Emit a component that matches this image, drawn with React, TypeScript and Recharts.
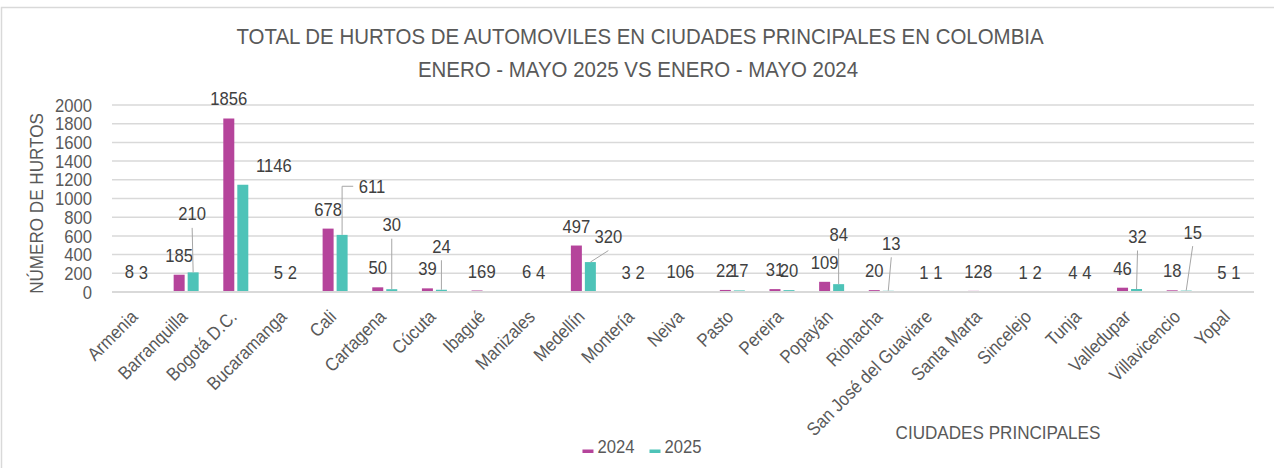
import React from 'react';
import { BarChart, Bar, XAxis, YAxis, CartesianGrid, LabelList, Legend } from 'recharts';

const cities = ['Armenia', 'Barranquilla', 'Bogotá D.C.', 'Bucaramanga', 'Cali', 'Cartagena', 'Cúcuta', 'Ibagué', 'Manizales', 'Medellín', 'Montería', 'Neiva', 'Pasto', 'Pereira', 'Popayán', 'Riohacha', 'San José del Guaviare', 'Santa Marta', 'Sincelejo', 'Tunja', 'Valledupar', 'Villavicencio', 'Yopal'];
const hurtos2024 = [8, 185, 1856, 5, 678, 50, 39, 16, 6, 497, 3, 10, 22, 31, 109, 20, 1, 12, 1, 4, 46, 18, 5];
const hurtos2025 = [3, 210, 1146, 2, 611, 30, 24, 9, 4, 320, 2, 6, 17, 20, 84, 13, 1, 8, 2, 4, 32, 15, 1];
const yTicks = [0, 200, 400, 600, 800, 1000, 1200, 1400, 1600, 1800, 2000];
const seriesNames = ['2024', '2025'];
const titleLines = ['TOTAL DE HURTOS DE AUTOMOVILES EN CIUDADES PRINCIPALES EN COLOMBIA', 'ENERO - MAYO 2025 VS ENERO - MAYO 2024'];
const yTitle = 'NÚMERO DE HURTOS';
const xTitle = 'CIUDADES PRINCIPALES';

// manual placement of some 2025 data labels (as in the source report)
const label2025Moves: Record<string, { dx: number; dy: number; leader: 'line' | 'elbow' | 'none' }> = {
  'Barranquilla': { dx: -1, dy: -39, leader: 'line' },
  'Bogotá D.C.': { dx: 31, dy: 0, leader: 'none' },
  'Cali': { dx: 30, dy: -29, leader: 'elbow' },
  'Cartagena': { dx: 0, dy: -45, leader: 'line' },
  'Cúcuta': { dx: 0, dy: -24, leader: 'line' },
  'Medellín': { dx: 18, dy: -6, leader: 'line' },
  'Popayán': { dx: 0, dy: -30, leader: 'line' },
  'Riohacha': { dx: 3, dy: -28, leader: 'line' },
  'Valledupar': { dx: 1, dy: -33, leader: 'line' },
  'Villavicencio': { dx: 6.5, dy: -39, leader: 'line' },
};

const data = cities.map((c, i) => ({ city: c, y2024: hurtos2024[i], y2025: hurtos2025[i] }));

const FONT = "'Liberation Sans', Arial, sans-serif";
const C2024 = '#B5449B';
const C2025 = '#4EC3B8';
const TXT = '#595959';
const LBL = '#404040';
const GRID = '#D9D9D9';
const SX = 0.9;
const FS = 18.5;

function CText({ x, y, angle = 0, sx = SX, size = FS, fill = TXT, anchor = 'middle', children }: any) {
  return (
    <text
      transform={`translate(${x},${y}) rotate(${angle}) scale(${sx},1)`}
      x={0}
      y={0}
      fontSize={size}
      fill={fill}
      textAnchor={anchor}
      fontFamily={FONT}
    >
      {children}
    </text>
  );
}

const YTick = (p: any) => (
  <CText x={p.x} y={Number(p.y) + 6.6} anchor="end">{p.payload.value}</CText>
);

const XTick = (p: any) => (
  <CText x={Number(p.x) + 2} y={Number(p.y) + 26} angle={-45} anchor="end">{p.payload.value}</CText>
);

const Label2024 = (p: any) => {
  const cx = Number(p.x) + Number(p.width) / 2;
  const top = Number(p.y);
  return <CText x={cx} y={top - 13} fill={LBL}>{p.value}</CText>;
};

const Label2025 = (p: any) => {
  const cx = Number(p.x) + Number(p.width) / 2;
  const top = Number(p.y);
  const city = cities[p.index];
  const mv = label2025Moves[city] || { dx: 0, dy: 0, leader: 'none' };
  const lx = cx + mv.dx;
  const ly = top - 13 + mv.dy;
  const txt = String(p.value);
  const w = txt.length * 0.556 * FS * SX;
  let leader = null;
  if (mv.leader === 'line') {
    leader = <line x1={lx} y1={ly + 7.5} x2={cx} y2={top} stroke="#A6A6A6" strokeWidth={1} />;
  } else if (mv.leader === 'elbow') {
    const my = ly - 6.6;
    leader = <polyline points={`${cx},${top} ${cx},${my} ${lx - w / 2 - 5},${my}`} fill="none" stroke="#A6A6A6" strokeWidth={1} />;
  }
  return (
    <g>
      {leader}
      <CText x={lx} y={ly} fill={LBL}>{txt}</CText>
    </g>
  );
};

const LegendContent = () => {
  const colors = [C2024, C2025];
  const sw = 11;
  const gap = 4;
  const tw = 4 * 0.556 * FS * SX;
  const itemGap = 15;
  const total = 2 * (sw + gap + tw) + itemGap;
  let x = 642 - total / 2;
  const items = seriesNames.map((n, i) => {
    const x0 = x;
    x += sw + gap + tw + itemGap;
    return (
      <g key={n}>
        <rect x={x0} y={17.5} width={sw} height={3.5} fill={colors[i]} />
        <CText x={x0 + sw + gap} y={21} anchor="start">{n}</CText>
      </g>
    );
  });
  return (
    <svg width={1274} height={32} style={{ display: 'block', overflow: 'visible' }}>
      {items}
    </svg>
  );
};

export default function App() {
  return (
    <div style={{ position: 'absolute', left: 0, top: 0, width: 1274, height: 468, background: '#fff', overflow: 'hidden' }}>
      <BarChart
        width={1274}
        height={468}
        data={data}
        margin={{ top: 105, right: 20, left: 52, bottom: 0 }}
        barGap={3}
      >
        <CartesianGrid vertical={false} stroke={GRID} strokeWidth={1.5} />
        <XAxis
          dataKey="city"
          interval={0}
          tickLine={false}
          tickSize={0}
          tickMargin={0}
          axisLine={{ stroke: GRID, strokeWidth: 2 }}
          height={176}
          tick={XTick}
        />
        <YAxis
          domain={[0, 2000]}
          ticks={yTicks}
          interval={0}
          width={60}
          axisLine={false}
          tickLine={false}
          tickSize={0}
          tickMargin={20}
          tick={YTick}
        />
        <Legend
          layout="horizontal"
          verticalAlign="middle"
          align="center"
          content={LegendContent}
          wrapperStyle={{ left: 0, top: 432, width: 1274, height: 32 }}
        />
        <Bar dataKey="y2024" name="2024" fill={C2024} barSize={11} isAnimationActive={false}>
          <LabelList dataKey="y2024" content={Label2024} />
        </Bar>
        <Bar dataKey="y2025" name="2025" fill={C2025} barSize={11} isAnimationActive={false}>
          <LabelList dataKey="y2025" content={Label2025} />
        </Bar>
      </BarChart>
      <svg width={1274} height={468} style={{ position: 'absolute', left: 0, top: 0, pointerEvents: 'none' }}>
        <rect x={1.5} y={7.5} width={1400} height={600} fill="none" stroke={GRID} strokeWidth={1.5} />
        <CText x={640} y={44.3} size={22} sx={0.93}>{titleLines[0]}</CText>
        <CText x={638} y={76.7} size={22} sx={0.93}>{titleLines[1]}</CText>
        <CText x={43} y={203.5} angle={-90} size={19}>{yTitle}</CText>
        <CText x={998} y={439} size={19}>{xTitle}</CText>
      </svg>
    </div>
  );
}
